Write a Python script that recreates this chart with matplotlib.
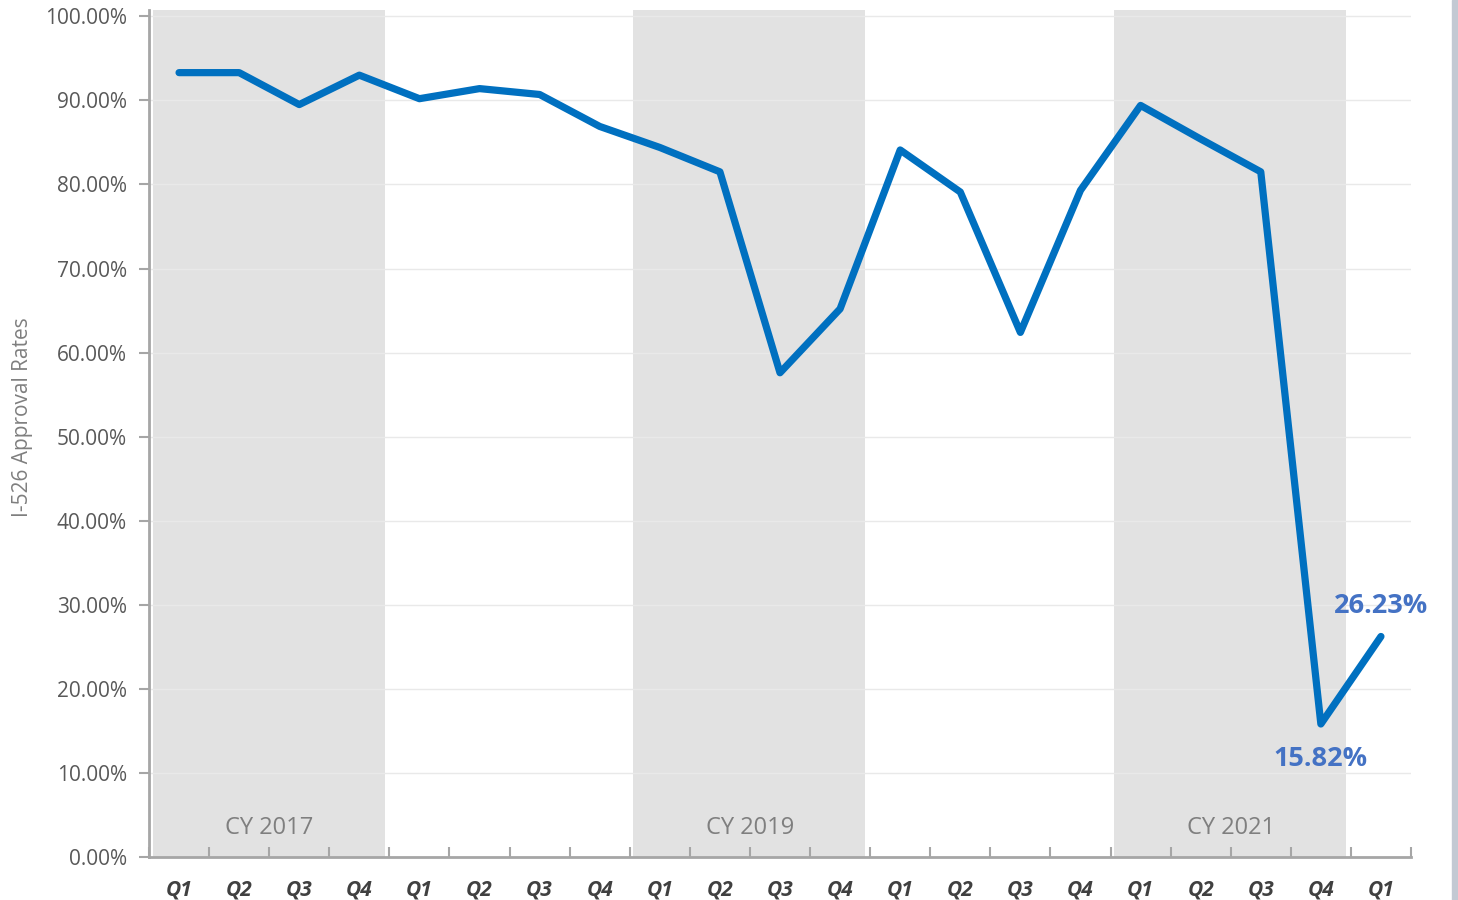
import matplotlib.pyplot as plt
from matplotlib.patches import Rectangle

quarters = ["Q1", "Q2", "Q3", "Q4"] * 5 + ["Q1"]
rates = [93.3, 93.3, 89.5, 93.0, 90.2, 91.4, 90.7, 86.9, 84.4, 81.5,
         57.6, 65.2, 84.1, 79.1, 62.4, 79.3, 89.4, 85.4, 81.5, 15.82, 26.23]
bands = [(0, 3, "CY 2017"), (8, 11, "CY 2019"), (16, 19, "CY 2021")]

fig = plt.figure(figsize=(14.58, 9), dpi=100)
ax = fig.add_axes([149 / 1458, 43 / 900, (1411 - 149) / 1458, (857 - 10) / 900])

x = list(range(len(rates)))

# shaded calendar-year bands
for s, e, lab in bands:
    ax.axvspan(s - 0.44, e + 0.42, color="#e2e2e2", lw=0, zorder=0)
    ax.text((s + e) / 2, 3.5, lab, ha="center", va="center",
            fontsize=17, color="#7f7f7f", family="Open Sans", zorder=1)

ax.plot(x, rates, color="#0070C0", lw=5.2, solid_capstyle="round",
        solid_joinstyle="round", zorder=3)

ax.text(20, 29.9, "26.23%", ha="center", va="center", fontsize=19.5,
        fontweight="bold", color="#4472C4", family="Open Sans", zorder=4)
ax.text(19, 11.7, "15.82%", ha="center", va="center", fontsize=19.5,
        fontweight="bold", color="#4472C4", family="Open Sans", zorder=4)

ax.set_xlim(-0.5, 20.5)
ax.set_ylim(0, 100.75)
ax.set_yticks(range(0, 101, 10))
ax.set_yticklabels([f"{v:.2f}%" for v in range(0, 101, 10)],
                   fontsize=15, color="#595959", family="Open Sans")
ax.yaxis.grid(True, color="#e9e9e9", lw=1)
ax.set_axisbelow(True)

ax.set_xticks(x)
ax.set_xticklabels(quarters, fontsize=15, fontweight="bold", style="italic",
                   color="#404040", family="Open Sans")
ax.tick_params(axis="x", which="major", length=0, pad=16)
ax.set_xticks([i - 0.5 for i in range(len(rates) + 1)], minor=True)
ax.tick_params(axis="x", which="minor", direction="in", length=7,
               color="#a6a6a6", width=1.5)
ax.tick_params(axis="y", length=7, color="#a6a6a6", width=1.5, pad=9)

for side in ["top", "right"]:
    ax.spines[side].set_visible(False)
for side in ["left", "bottom"]:
    ax.spines[side].set_color("#a6a6a6")
    ax.spines[side].set_linewidth(2)

ax.set_ylabel("I-526 Approval Rates", fontsize=15, color="#7f7f7f",
              family="Open Sans")
ax.yaxis.set_label_coords(-0.092, 0.519)

fig.patches.append(Rectangle((1452 / 1458, 0), 6 / 1458, 1,
                             transform=fig.transFigure, color="#c3c9d3"))

fig.savefig("out.png", dpi=100)
